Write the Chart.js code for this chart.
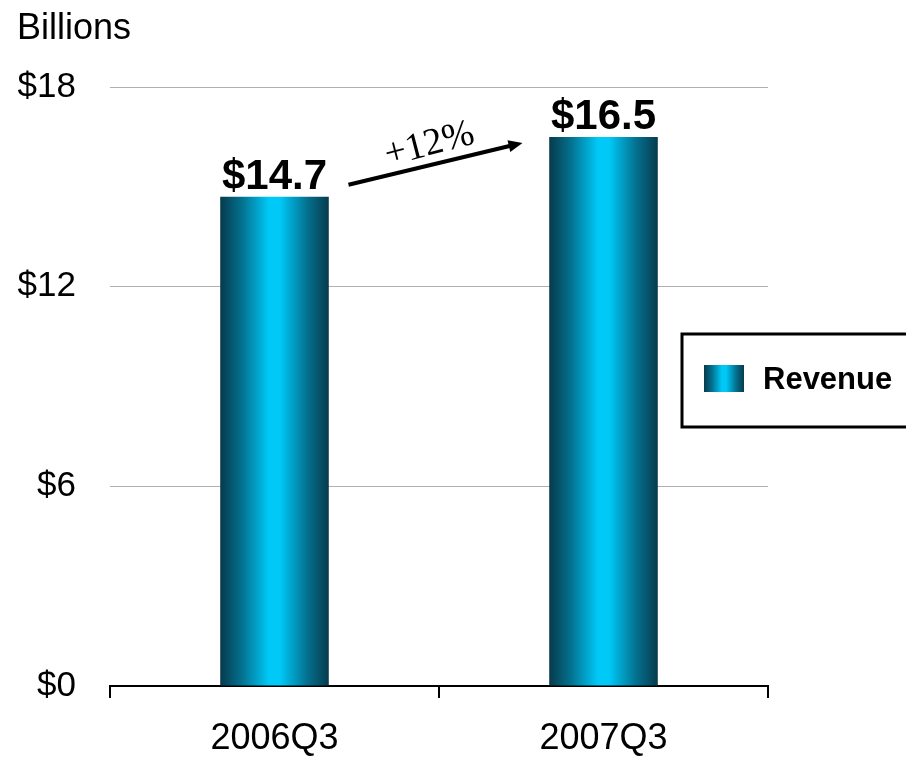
<!DOCTYPE html>
<html>
<head>
<meta charset="utf-8">
<title>Revenue</title>
<script src="https://cdn.jsdelivr.net/npm/chart.js@4/dist/chart.umd.min.js"></script>
<style>
  html, body { margin: 0; padding: 0; background: #fff; }
  #chart { display: block; }
</style>
</head>
<body>
<canvas id="chart" width="906" height="757"></canvas>
<script>
// data
const categories = ["2006Q3", "2007Q3"];
const revenue = [14.7, 16.5];
const yTicks = [0, 6, 12, 18];
const growthLabel = "+12%";
const unitLabel = "Billions";
const seriesName = "Revenue";

const SANS = "'Liberation Sans', Arial, sans-serif";
const SERIF = "'Liberation Serif', 'Times New Roman', serif";
const BAR_PCT = 0.33;

// horizontal "cylinder" shading used for bars and the legend swatch
function barGradient(ctx, left, right) {
  const g = ctx.createLinearGradient(left, 0, right, 0);
  g.addColorStop(0, "#073a4c");
  g.addColorStop(0.2, "#04718f");
  g.addColorStop(0.45, "#00c9f8");
  g.addColorStop(0.55, "#00c9f8");
  g.addColorStop(0.8, "#04718f");
  g.addColorStop(1, "#073a4c");
  return g;
}

// per-bar fill, worked out from the x scale (falls back until layout is done)
function barFill(c) {
  const chart = c.chart;
  const x = chart.scales && chart.scales.x;
  if (!x || c.dataIndex === undefined) return "#00c9f8";
  const cx = x.getPixelForValue(c.dataIndex);
  const half = (x.width / categories.length) * BAR_PCT / 2;
  if (!isFinite(cx) || !isFinite(half) || half <= 0) return "#00c9f8";
  return barGradient(chart.ctx, cx - half, cx + half);
}

// ‚îÄ‚îÄ extra drawing: unit label, value labels, growth arrow, legend box ‚îÄ‚îÄ
const decorations = {
  id: "decorations",
  afterDatasetsDraw(chart) {
    const ctx = chart.ctx;
    const bars = chart.getDatasetMeta(0).data;
    ctx.save();

    // unit label
    ctx.fillStyle = "#000";
    ctx.font = "36px " + SANS;
    ctx.textAlign = "left";
    ctx.textBaseline = "alphabetic";
    ctx.fillText(unitLabel, 17, 39);

    // value labels above bars
    ctx.font = "bold 42px " + SANS;
    ctx.textAlign = "center";
    bars.forEach((bar, i) => {
      ctx.fillText("$" + revenue[i].toFixed(1), bar.x, bar.y - 8);
    });

    // growth arrow between the two labels
    const b0 = bars[0], b1 = bars[1];
    const x1 = b0.x + 74, y1 = b0.y - 12;
    const x2 = b1.x - 81, y2 = b1.y + 6;
    const ang = Math.atan2(y2 - y1, x2 - x1);
    ctx.strokeStyle = "#000";
    ctx.lineWidth = 4;
    ctx.beginPath();
    ctx.moveTo(x1, y1);
    ctx.lineTo(x2 - 8 * Math.cos(ang), y2 - 8 * Math.sin(ang));
    ctx.stroke();
    ctx.fillStyle = "#000";
    ctx.beginPath();
    ctx.moveTo(x2, y2);
    ctx.lineTo(x2 - 14 * Math.cos(ang) + 6 * Math.sin(ang), y2 - 14 * Math.sin(ang) - 6 * Math.cos(ang));
    ctx.lineTo(x2 - 14 * Math.cos(ang) - 6 * Math.sin(ang), y2 - 14 * Math.sin(ang) + 6 * Math.cos(ang));
    ctx.closePath();
    ctx.fill();

    // growth text, tilted along the arrow
    ctx.save();
    ctx.translate((x1 + x2) / 2 - 6, (y1 + y2) / 2 - 19);
    ctx.rotate(ang - 0.02);
    ctx.font = "38px " + SERIF;
    ctx.textAlign = "center";
    ctx.textBaseline = "middle";
    ctx.fillText(growthLabel, 0, 0);
    ctx.restore();

    // legend box
    ctx.fillStyle = "#fff";
    ctx.fillRect(682, 334, 240, 93);
    ctx.strokeStyle = "#000";
    ctx.lineWidth = 3;
    ctx.strokeRect(682, 334, 240, 93);
    ctx.fillStyle = barGradient(ctx, 704, 744);
    ctx.fillRect(704, 365, 40, 27);
    ctx.fillStyle = "#000";
    ctx.font = "bold 31px " + SANS;
    ctx.textAlign = "left";
    ctx.textBaseline = "middle";
    ctx.fillText(seriesName, 763, 380);

    ctx.restore();
  }
};

new Chart(document.getElementById("chart"), {
  type: "bar",
  data: {
    labels: categories,
    datasets: [{
      label: seriesName,
      data: revenue,
      categoryPercentage: 1,
      barPercentage: BAR_PCT,
      borderWidth: 0,
      backgroundColor: barFill
    }]
  },
  options: {
    responsive: false,
    animation: false,
    events: [],
    layout: { padding: { top: 87, right: 138, left: 0, bottom: 0 } },
    plugins: {
      legend: { display: false },
      tooltip: { enabled: false }
    },
    scales: {
      x: {
        offset: true,
        afterFit(s) { s.height = 71; },
        grid: {
          offset: true,
          drawOnChartArea: false,
          color: "#000",
          lineWidth: 2,
          tickLength: 12
        },
        border: { color: "#000", width: 2 },
        ticks: {
          color: "#000",
          padding: 19,
          font: { family: SANS, size: 36 }
        }
      },
      y: {
        min: yTicks[0],
        max: yTicks[yTicks.length - 1],
        afterFit(s) { s.width = 110; },
        afterBuildTicks(s) { s.ticks = yTicks.map(v => ({ value: v })); },
        grid: { color: "#b0b0b0", lineWidth: 1, drawTicks: false },
        border: { display: false },
        ticks: {
          color: "#000",
          padding: 34,
          font: { family: SANS, size: 35 },
          callback: v => "$" + v
        }
      }
    }
  },
  plugins: [decorations]
});
</script>
</body>
</html>
